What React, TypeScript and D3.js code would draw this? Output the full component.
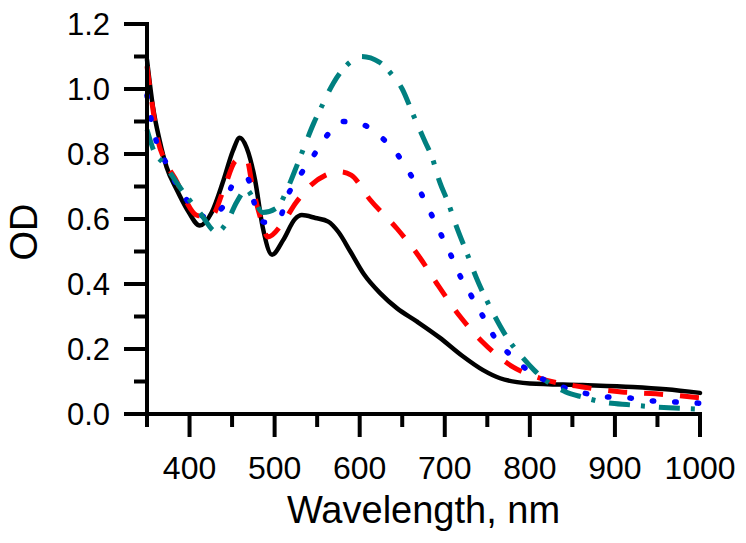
import React from "react";
import * as d3 from "d3";

// ---- Data ----
const xTicksMajor = [400, 500, 600, 700, 800, 900, 1000];
const xTicksMinor = [350, 450, 550, 650, 750, 850, 950];
const yTicksMajor = [0, 0.2, 0.4, 0.6, 0.8, 1.0, 1.2];
const yTicksMinor = [0.1, 0.3, 0.5, 0.7, 0.9, 1.1];

const blackWl = [350, 357, 365, 373, 385, 397, 412, 426, 440, 451, 459, 467, 477, 486, 497, 510, 524, 532, 548, 563, 575, 589, 605, 624, 644, 667, 694, 720, 745, 765, 785, 800, 862, 921, 960, 1000];
const blackOD = [1.09, 0.945, 0.84, 0.76, 0.69, 0.63, 0.58, 0.62, 0.72, 0.81, 0.85, 0.82, 0.72, 0.575, 0.49, 0.535, 0.6, 0.612, 0.603, 0.592, 0.56, 0.5, 0.43, 0.372, 0.325, 0.285, 0.235, 0.18, 0.135, 0.11, 0.098, 0.094, 0.089, 0.083, 0.076, 0.065];

const redWl = [350, 356, 363, 371, 385, 393, 410, 426, 440, 455, 467, 474, 485, 492, 510, 525, 541, 560, 577, 590, 612, 644, 671, 691, 718, 745, 780, 812, 862, 908, 948, 1000];
const redOD = [1.07, 0.955, 0.84, 0.78, 0.715, 0.67, 0.61, 0.61, 0.69, 0.78, 0.785, 0.7, 0.59, 0.545, 0.59, 0.65, 0.7, 0.735, 0.745, 0.735, 0.66, 0.57, 0.48, 0.4, 0.3, 0.22, 0.145, 0.11, 0.083, 0.068, 0.062, 0.05];

const blueWl = [350, 355, 362, 373, 386, 403, 420, 440, 452, 468, 476, 488, 506, 515, 530, 547, 561, 580, 604, 626, 644, 659, 672, 685, 696, 707, 718, 732, 745, 760, 780, 800, 823, 842, 868, 888, 918, 945, 971, 1000];
const blueOD = [0.98, 0.905, 0.83, 0.77, 0.7, 0.64, 0.605, 0.64, 0.71, 0.725, 0.65, 0.59, 0.605, 0.67, 0.735, 0.8, 0.855, 0.9, 0.89, 0.85, 0.8, 0.74, 0.68, 0.61, 0.55, 0.49, 0.425, 0.36, 0.3, 0.23, 0.175, 0.13, 0.098, 0.08, 0.062, 0.053, 0.049, 0.04, 0.037, 0.033];

const tealWl = [350, 358, 370, 388, 412, 432, 444, 455, 467, 477, 486, 504, 512, 524, 533, 546, 556, 569, 589, 602, 623, 636, 650, 663, 677, 685, 694, 704, 714, 726, 737, 755, 775, 791, 805, 823, 842, 862, 885, 918, 945, 1000];
const tealOD = [0.875, 0.81, 0.77, 0.7, 0.62, 0.56, 0.59, 0.65, 0.69, 0.652, 0.62, 0.637, 0.675, 0.75, 0.81, 0.895, 0.95, 1.018, 1.083, 1.1, 1.083, 1.05, 1.0, 0.92, 0.837, 0.79, 0.714, 0.65, 0.575, 0.495, 0.42, 0.32, 0.228, 0.175, 0.135, 0.095, 0.068, 0.052, 0.037, 0.028, 0.022, 0.015];

const series = [
  { name: "black", wl: blackWl, od: blackOD, color: "#000000", dash: "none", cap: "round" as const, width: 4.5 },
  { name: "red", wl: redWl, od: redOD, color: "#ff0000", dash: "19 17", cap: "butt" as const, width: 5 },
  { name: "blue", wl: blueWl, od: blueOD, color: "#0000ff", dash: "1.5 21", cap: "round" as const, width: 5.5 },
  { name: "teal", wl: tealWl, od: tealOD, color: "#008080", dash: "21 11 4 14", cap: "butt" as const, width: 5 },
];

const W = 746;
const H = 543;
const FONT = "'Liberation Sans', Arial, Helvetica, sans-serif";

export default function App() {
  const x = d3.scaleLinear().domain([350, 1000]).range([147, 700]);
  const y = d3.scaleLinear().domain([0, 1.2]).range([414, 24]);
  const x0 = x(350);
  const y0 = y(0);

  const line = d3
    .line<[number, number]>()
    .x((d) => x(d[0]))
    .y((d) => y(d[1]))
    .curve(d3.curveMonotoneX);

  return (
    <svg
      width={W}
      height={H}
      style={{ position: "absolute", left: 0, top: 0, background: "#fff" }}
      fontFamily={FONT}
    >
      <rect x={0} y={0} width={W} height={H} fill="#fff" />
      {series.map((s) => (
        <path
          key={s.name}
          d={line(s.wl.map((w, i) => [w, s.od[i]] as [number, number])) || ""}
          fill="none"
          stroke={s.color}
          strokeWidth={s.width}
          strokeDasharray={s.dash}
          strokeLinecap={s.cap}
          strokeLinejoin="round"
        />
      ))}

      {/* Axes */}
      <g stroke="#000" strokeWidth={4} strokeLinecap="butt">
        <line x1={x0} y1={y(1.2) - 2} x2={x0} y2={y0 + 2} />
        <line x1={x0 - 2} y1={y0} x2={x(1000) + 2} y2={y0} />
        {yTicksMajor.map((t) => (
          <line key={"ym" + t} x1={x0 - 23} x2={x0} y1={y(t)} y2={y(t)} />
        ))}
        {yTicksMinor.map((t) => (
          <line key={"yn" + t} x1={x0 - 13} x2={x0} y1={y(t)} y2={y(t)} />
        ))}
        {xTicksMajor.map((t) => (
          <line key={"xm" + t} x1={x(t)} x2={x(t)} y1={y0} y2={y0 + 23} />
        ))}
        {xTicksMinor.map((t) => (
          <line key={"xn" + t} x1={x(t)} x2={x(t)} y1={y0} y2={y0 + 13} />
        ))}
      </g>

      {/* Tick labels */}
      <g fill="#000" fontSize={31}>
        {yTicksMajor.map((t) => (
          <text key={"yl" + t} x={110} y={y(t) + 11} textAnchor="end">
            {t.toFixed(1)}
          </text>
        ))}
      </g>
      <g fill="#000" fontSize={32}>
        {xTicksMajor.map((t) => (
          <text key={"xl" + t} x={x(t)} y={479} textAnchor="middle">
            {t}
          </text>
        ))}
      </g>

      {/* Axis titles */}
      <text x={(x(350) + x(1000)) / 2} y={523} textAnchor="middle" fontSize={38} fill="#000">
        Wavelength, nm
      </text>
      <text
        transform={`translate(37, ${232}) rotate(-90)`}
        textAnchor="middle"
        fontSize={38}
        fill="#000"
      >
        OD
      </text>
    </svg>
  );
}
